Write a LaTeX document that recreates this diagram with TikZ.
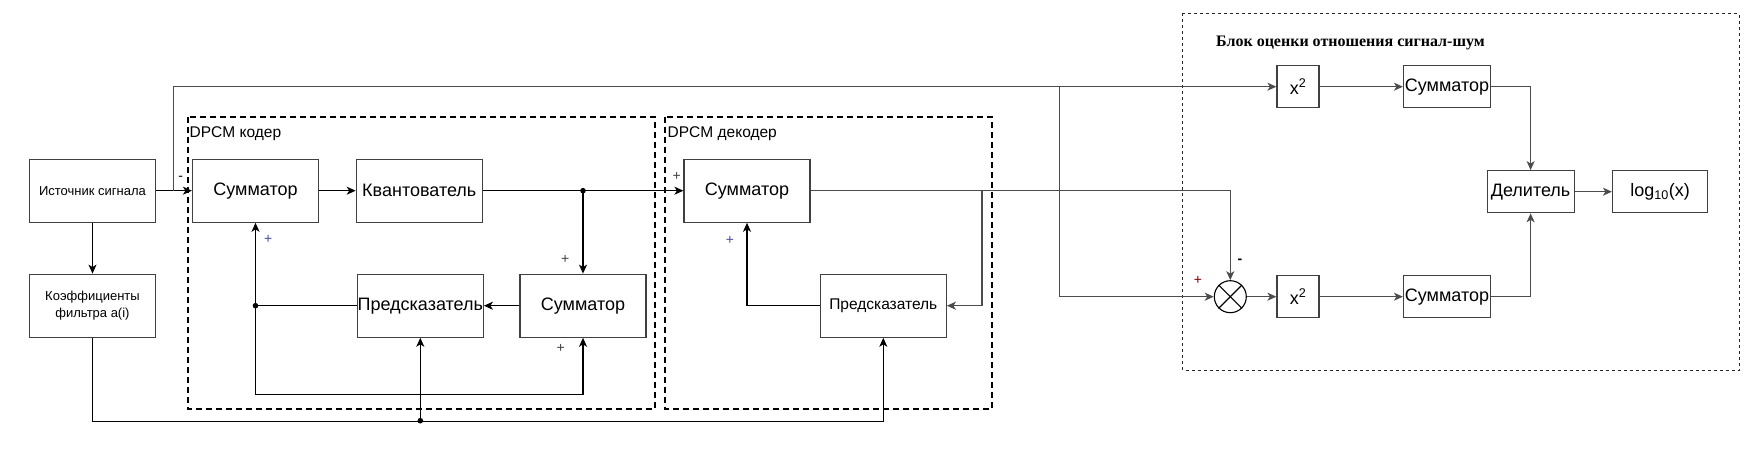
\documentclass[tikz,border=0pt]{standalone}
\usepackage{fontspec}
\setmainfont{Liberation Sans}
\newfontfamily\titlefont{Liberation Serif}
\usetikzlibrary{arrows.meta}
\begin{document}
\begin{tikzpicture}
[x=1pt,y=-1pt,
  blockdecorate/.style={shape=rectangle,draw=black!75,line width=1.2pt,
    minimum width=126pt,minimum height=63pt,inner sep=0pt,align=center,
    font=\fontsize{18}{21}\selectfont},
  smalldecorate/.style={blockdecorate,font=\fontsize{13}{17}\selectfont},
  squaredecorate/.style={blockdecorate,minimum width=42pt,minimum height=42pt},
  widedecorate/.style={blockdecorate,minimum width=87pt,minimum height=42pt},
  framedecorate/.style={draw=black,line width=2pt,dash pattern=on 6pt off 4pt},
  thinframedecorate/.style={draw=black!85,line width=0.8pt,dash pattern=on 3pt off 3pt},
  linedecorate/.style={draw=black,line width=1.1pt},
  arrowdecorate/.style={linedecorate,-{Stealth[length=9pt,width=8pt,inset=2.5pt]}},
  grayarrowdecorate/.style={arrowdecorate,draw=black!70,line width=1.4pt},
  signdecorate/.style={inner sep=0pt,font=\fontsize{14}{14}\selectfont}]
\useasboundingbox (0,0) rectangle (1748,463);
%% dashed frames
\draw[framedecorate] (187.5,117.3) rectangle (655.4,408.7);
\draw[framedecorate] (665,116.7) rectangle (992,408.7);
\draw[thinframedecorate] (1182.7,13.3) rectangle (1739,370.3);
\node[anchor=west,inner sep=0pt,font=\fontsize{15.5}{18}\selectfont] (enclabel) at (189.5,134) {DPCM кодер};
\node[anchor=west,inner sep=0pt,font=\fontsize{15.5}{18}\selectfont] (declabel) at (667.5,133.3) {DPCM декодер};
\node[anchor=west,inner sep=0pt,font=\titlefont\bfseries\fontsize{16}{18}\selectfont] (snrlabel) at (1216,43.3) {Блок оценки отношения сигнал-шум};
%% blocks
\node (src) at (92.5,190.7) [smalldecorate] {Источник сигнала};
\node (coef) at (92.5,305.7) [smalldecorate] {Коэффициенты\\фильтра a(i)};
\foreach \nodename/\nodelabel/\x/\y in {
  sum1/Сумматор/255.5/190.7, quant/Квантователь/419.3/190.7,
  pred1/Предсказатель/420.3/305.7, sum2/Сумматор/583/305.7,
  sum3/Сумматор/747/190.7} {
  \node (\nodename) at (\x,\y) [blockdecorate] {\nodelabel};
}
\node (pred3) at (883.3,305.7) [blockdecorate,font=\fontsize{15.5}{18}\selectfont] {Предсказатель};
\foreach \nodename/\nodelabel/\x/\y/\kind in {
  sqa/x\textsuperscript{2}/1298/86.7/squaredecorate,
  sqb/x\textsuperscript{2}/1298/296.7/squaredecorate,
  acca/Сумматор/1447/86.7/widedecorate,
  accb/Сумматор/1447/296.7/widedecorate,
  div/Делитель/1530.6/191.7/widedecorate} {
  \node (\nodename) at (\x,\y) [\kind] {\nodelabel};
}
\node (logx) at (1660,191.7) [widedecorate,minimum width=95pt] {log\textsubscript{10}(x)};
\node (mult) at (1230.3,296.7) [shape=circle,draw=black,line width=1.1pt,minimum size=32pt,inner sep=0pt] {};
\draw[linedecorate] (mult.north west) -- (mult.south east);
\draw[linedecorate] (mult.north east) -- (mult.south west);
%% taps and junctions
\coordinate (tapsrc) at (173.4,190.7);
\coordinate (tapsq) at (1059.5,86.7);
\coordinate (tapdec) at (981.8,190.7);
\coordinate (dotq) at (sum2.north |- quant.east);
\coordinate (dotp) at (sum1.south |- pred1.west);
\coordinate (dotc) at (420.3,420.7);
\foreach \dotname in {dotq,dotp,dotc} {
  \fill (\dotname) circle (2.8pt);
}
%% encoder
\draw[arrowdecorate] (src) -- (sum1);
\draw[grayarrowdecorate] (tapsrc) |- (sqa.west);
\draw[arrowdecorate] (sum1) -- (quant);
\draw[arrowdecorate] (quant) -- (sum3);
\draw[arrowdecorate] (dotq) -- (sum2.north);
\draw[arrowdecorate] (sum2) -- (pred1);
\draw[linedecorate] (pred1.west) -- (dotp);
\draw[arrowdecorate] (dotp) -- (sum1.south);
\draw[arrowdecorate] (dotp) -- ++(0,88.6) -| (sum2.south);
%% coefficients
\draw[arrowdecorate] (src) -- (coef);
\draw[arrowdecorate] (coef.south) -- ++(0,83.5) -| (pred3.south);
\draw[arrowdecorate] (dotc) -- (pred1.south);
%% decoder
\draw[grayarrowdecorate] (sum3.east) -| (mult.north);
\draw[grayarrowdecorate] (tapdec) |- (pred3.east);
\draw[arrowdecorate] (pred3.west) -| (sum3.south);
%% signal-to-noise block
\draw[grayarrowdecorate] (tapsq) |- (mult.west);
\draw[grayarrowdecorate] (mult) -- (sqb);
\draw[grayarrowdecorate] (sqb) -- (accb);
\draw[grayarrowdecorate] (sqa) -- (acca);
\draw[grayarrowdecorate] (acca.east) -| (div.north);
\draw[grayarrowdecorate] (accb.east) -| (div.south);
\draw[grayarrowdecorate] (div) -- (logx);
%% signs
\foreach \signname/\signtext/\x/\y/\colour in {
  m1/-/180.7/178.3/black, p1/+/268.3/239/blue!45!black!70,
  p2/+/565.3/259.3/black!75, p3/+/560.7/348.3/black!75,
  p4/+/676.8/176.7/black!75, p5/+/730/240/blue!45!black!70,
  p6/+/1198/280/red!50!black} {
  \node (\signname) at (\x,\y) [signdecorate,text=\colour] {\signtext};
}
\node (m2) at (1240,261.7) [signdecorate,font=\bfseries\fontsize{14}{14}\selectfont] {-};
\end{tikzpicture}
\end{document}
